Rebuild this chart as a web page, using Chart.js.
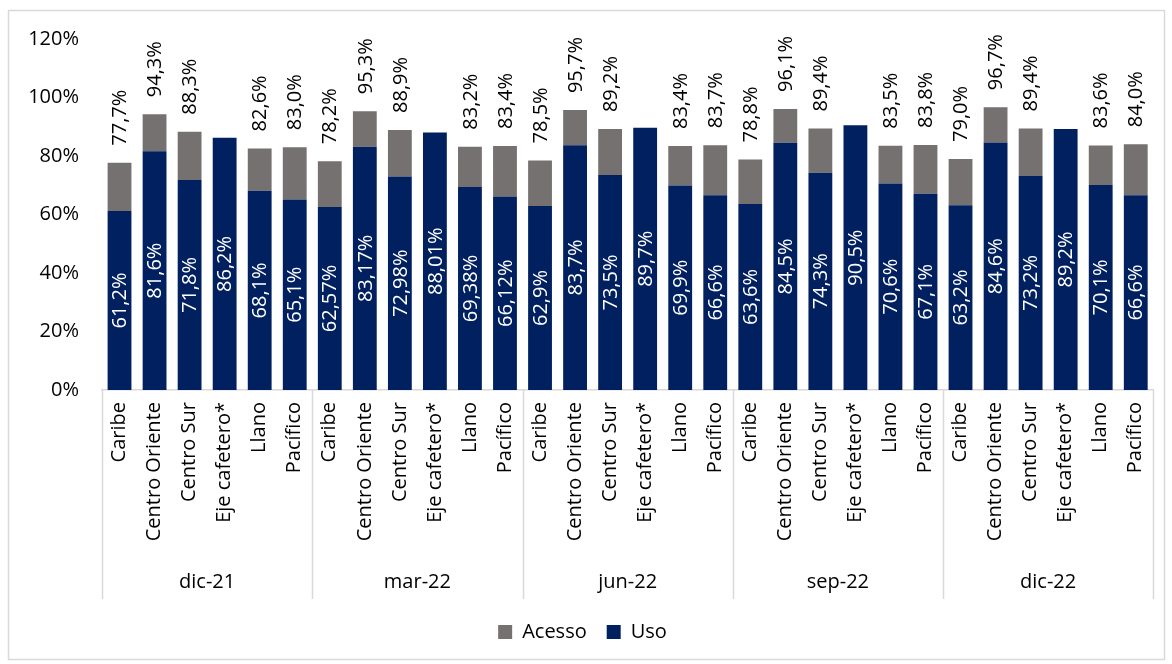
<!DOCTYPE html>
<html>
<head>
<meta charset="utf-8">
<script src="https://cdn.jsdelivr.net/npm/chart.js@4"></script>
<style>
  html, body { margin: 0; padding: 0; background: #fff; }
  #wrap { width: 1172px; height: 664px; }
</style>
</head>
<body>
<div id="wrap"><canvas id="myChart" width="1172" height="664"></canvas></div>
<script>
// Datos
const periods = ['dic-21', 'mar-22', 'jun-22', 'sep-22', 'dic-22'];
const regions = ['Caribe', 'Centro Oriente', 'Centro Sur', 'Eje cafetero*', 'Llano', 'Pacífico'];
const uso = [
    61.2, 81.6, 71.8, 86.2, 68.1, 65.1,
    62.57, 83.17, 72.98, 88.01, 69.38, 66.12,
    62.9, 83.7, 73.5, 89.7, 69.9, 66.6,
    63.6, 84.5, 74.3, 90.5, 70.6, 67.1,
    63.2, 84.6, 73.2, 89.2, 70.1, 66.6
];
const acceso = [
    77.7, 94.3, 88.3, null, 82.6, 83.0,
    78.2, 95.3, 88.9, null, 83.2, 83.4,
    78.5, 95.7, 89.2, null, 83.4, 83.7,
    78.8, 96.1, 89.4, null, 83.5, 83.8,
    79.0, 96.7, 89.4, null, 83.6, 84.0
];
const yTicks = [0, 20, 40, 60, 80, 100, 120];

const FONT = 'Open Sans';
const labels = periods.flatMap(() => regions);
const brecha = acceso.map((v, i) => v == null ? null : +(v - uso[i]).toFixed(2));
const coma = s => s.replace('.', ',') + '%';

// marco, separadores de grupo y etiquetas de datos
const extras = {
    id: 'extras',
    beforeDraw(chart) {
        const c = chart.ctx;
        c.save();
        c.strokeStyle = '#d9d9d9';
        c.lineWidth = 1.5;
        c.strokeRect(8.5, 10.5, 1156, 649);
        c.restore();
    },
    afterDraw(chart) {
        const c = chart.ctx;
        const x = chart.scales.x, x2 = chart.scales.x2;
        const step = x.getPixelForValue(1) - x.getPixelForValue(0);
        c.save();
        c.strokeStyle = '#d9d9d9';
        c.lineWidth = 1.5;
        for (let g = 0; g <= periods.length; g++) {
            const px = Math.round(x.getPixelForValue(g * regions.length) - step / 2) + 0.5;
            c.beginPath();
            c.moveTo(px, chart.chartArea.bottom);
            c.lineTo(px, x2.bottom - 3);
            c.stroke();
        }
        c.restore();
    },
    afterDatasetsDraw(chart) {
        const c = chart.ctx;
        const mUso = chart.getDatasetMeta(0);
        const mBr = chart.getDatasetMeta(1);
        c.save();
        c.font = '20px "' + FONT + '"';
        c.textBaseline = 'middle';
        mUso.data.forEach((bar, i) => {
            c.save();
            c.translate(bar.x, (bar.y + bar.base) / 2);
            c.rotate(-Math.PI / 2);
            c.fillStyle = '#ffffff';
            c.textAlign = 'center';
            c.fillText(coma(String(uso[i])), 0, 1);
            c.restore();
            if (acceso[i] != null) {
                const top = mBr.data[i].y;
                c.save();
                c.translate(bar.x, top - 17);
                c.rotate(-Math.PI / 2);
                c.fillStyle = '#000000';
                c.textAlign = 'left';
                c.fillText(coma(acceso[i].toFixed(1)), 0, 1);
                c.restore();
            }
        });
        c.restore();
    }
};

const ctx = document.getElementById('myChart').getContext('2d');
const myChart = new Chart(ctx, {
    type: 'bar',
    data: {
        labels: labels,
        datasets: [{
            label: 'Uso',
            data: uso,
            backgroundColor: '#002060',
            stack: 's'
        }, {
            label: 'Acesso',
            data: brecha,
            backgroundColor: '#767171',
            stack: 's'
        }]
    },
    options: {
        responsive: false,
        animation: false,
        devicePixelRatio: 1,
        datasets: {
            bar: { categoryPercentage: 1, barPercentage: 0.68 }
        },
        layout: { padding: { top: 39, left: 8, right: 15, bottom: 12 } },
        plugins: {
            tooltip: { enabled: false },
            legend: {
                position: 'bottom',
                reverse: true,
                labels: {
                    color: '#000',
                    font: { family: FONT, size: 20 },
                    boxWidth: 14,
                    boxHeight: 14,
                    padding: 20
                }
            }
        },
        scales: {
            x: {
                stacked: true,
                grid: { display: false, drawTicks: false },
                border: { display: true, color: '#d9d9d9', width: 1.5 },
                ticks: {
                    color: '#000',
                    font: { family: FONT, size: 20 },
                    autoSkip: false,
                    maxRotation: 90,
                    minRotation: 90,
                    padding: 12
                },
                afterFit: s => { s.height = 160; }
            },
            x2: {
                type: 'category',
                labels: periods,
                position: 'bottom',
                offset: true,
                weight: 1,
                grid: { display: false, drawTicks: false },
                border: { display: false },
                ticks: {
                    color: '#000',
                    font: { family: FONT, size: 20 },
                    maxRotation: 0,
                    padding: 20
                },
                afterFit: s => { s.height = 52; }
            },
            y: {
                stacked: true,
                min: 0,
                max: 120,
                grid: { display: false, drawTicks: false },
                border: { display: false },
                afterBuildTicks: s => { s.ticks = yTicks.map(v => ({ value: v })); },
                ticks: {
                    color: '#000',
                    font: { family: FONT, size: 20 },
                    padding: 23,
                    callback: v => v + '%'
                },
                afterFit: s => { s.width = 94; }
            }
        }
    },
    plugins: [extras]
});
</script>
</body>
</html>
